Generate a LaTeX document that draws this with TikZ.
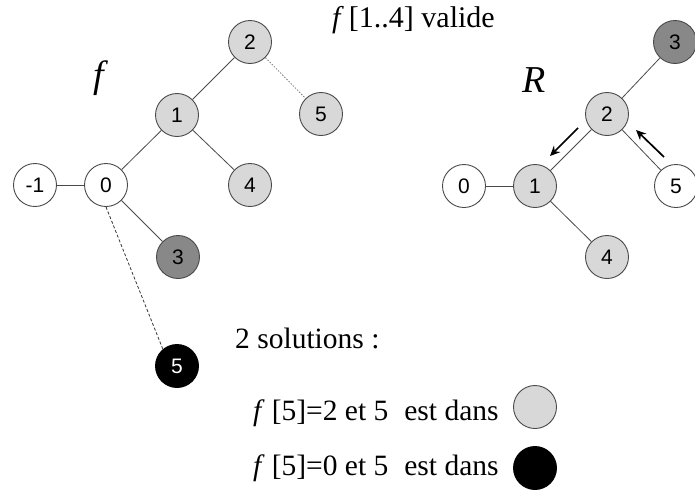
\documentclass[tikz,border=0pt]{standalone}
\usepackage{fontspec}
\setmainfont{Liberation Serif}
\newfontfamily\nodefont{Liberation Sans}
\usetikzlibrary{arrows.meta}
\definecolor{lightg}{HTML}{D8D8D8}
\definecolor{darkg}{HTML}{888888}
\definecolor{edgec}{HTML}{4A4A4A}
\begin{document}
\begin{tikzpicture}[x=1pt,y=-1pt,
  vtx/.style={circle, draw=edgec, line width=0.9pt, minimum size=43pt, inner sep=0pt,
    font={\nodefont\fontsize{21}{24}\selectfont}},
  lg/.style={vtx, fill=lightg},
  dg/.style={vtx, fill=darkg},
  bk/.style={vtx, fill=black, draw=black, text=white},
  wh/.style={vtx, fill=white},
  edge/.style={draw=edgec, line width=0.8pt},
  dotedge/.style={draw=gray, line width=0.8pt, dash pattern=on 1.5pt off 1.5pt},
  dashedge/.style={draw=black!80, line width=0.8pt, dash pattern=on 3pt off 2pt},
  arr/.style={draw=black, line width=1.7pt, -{Stealth[length=10pt,width=9pt]}},
  txt/.style={anchor=base west, inner sep=0pt}
]
\useasboundingbox (0,0) rectangle (695,493);
% left tree
\node[lg] (L2) at (250,42) {2};
\node[lg] (L5) at (321,114) {5};
\node[lg] (L1) at (177,115) {1};
\node[wh] (L0) at (106,185) {0};
\node[wh] (Lm) at (35,185) {-1};
\node[lg] (L4) at (250,185) {4};
\node[dg] (L3) at (178,257) {3};
\node[bk] (L5b) at (177,366) {5};
\node (fl) at (101,78) {\fontsize{38}{40}\selectfont\textit{f}};
\draw[edge] (Lm) -- (L0);
\draw[edge] (L0) -- (L1);
\draw[edge] (L1) -- (L2);
\draw[edge] (L1) -- (L4);
\draw[edge] (L0) -- (L3);
\draw[dotedge] (L2) -- (L5);
\draw[dashedge] (L0.south) -- (L5b.130);
% right tree
\node[dg] (R3) at (675,42) {3};
\node[lg] (R2) at (607,114) {2};
\node[lg] (R1) at (535,186) {1};
\node[wh] (R0) at (464,186) {0};
\node[wh] (R5) at (676,186) {5};
\node[lg] (R4) at (607,257) {4};
\node (rl) at (534,80) {\fontsize{38}{40}\selectfont\textit{R}};
\draw[edge] (R0) -- (R1);
\draw[edge] (R1) -- (R2);
\draw[edge] (R2) -- (R3);
\draw[edge] (R2) -- (R5);
\draw[edge] (R1) -- (R4);
\coordinate (a1s) at (578,128);
\coordinate (a1e) at (550,156);
\coordinate (a2s) at (664,157);
\coordinate (a2e) at (636,130);
\draw[arr] (a1s) -- (a1e);
\draw[arr] (a2s) -- (a2e);
% texts
\node[txt] (t1) at (332,27) {\fontsize{30}{34}\selectfont\textit{f}\,[1..4] valide};
\node[txt] (t2) at (235,348) {\fontsize{29.5}{34}\selectfont 2 solutions :};
\node[txt] (t3) at (253,420) {\fontsize{29.5}{34}\selectfont\textit{f}\hspace{7pt}[5]=2 et 5\hspace{16pt}est dans};
\node[txt] (t4) at (253,475) {\fontsize{29.5}{34}\selectfont\textit{f}\hspace{7pt}[5]=0 et 5\hspace{16pt}est dans};
\node[lg] (c1) at (535,407) {};
\node[bk] (c2) at (535,468) {};
\end{tikzpicture}
\end{document}
